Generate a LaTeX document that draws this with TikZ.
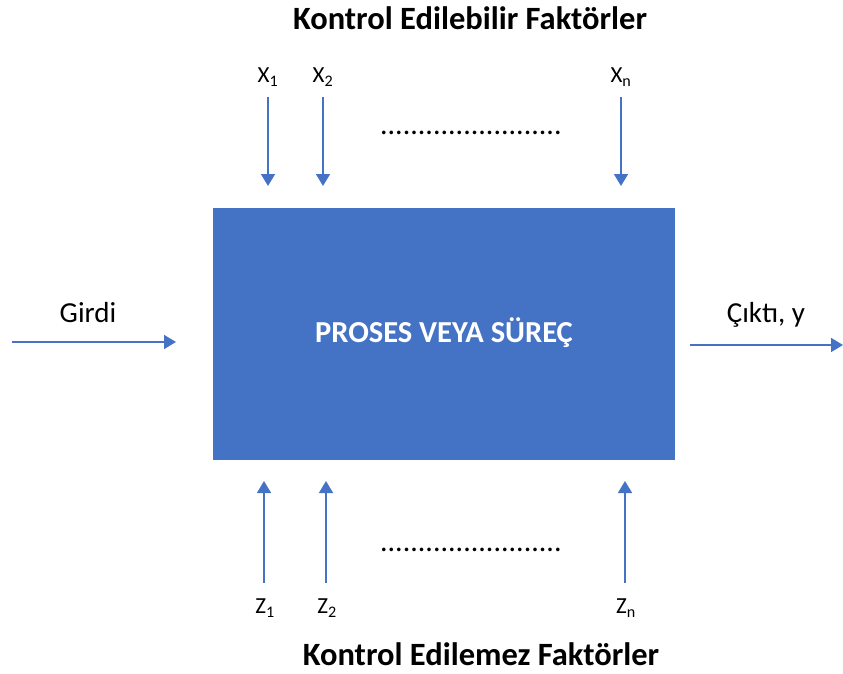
\documentclass[tikz,border=0pt]{standalone}
\usepackage{fontspec}
\setmainfont{Carlito}
\usetikzlibrary{arrows.meta}
\definecolor{boxblue}{HTML}{4472C4}
\begin{document}
\begin{tikzpicture}[x=1pt,y=-1pt,
  arr/.style={draw=boxblue,line width=1.6pt,-{Triangle[width=14pt,length=12pt]}},
  lbl/.style={font=\fontsize{23}{26}\selectfont,inner sep=0pt},
  big/.style={font=\fontsize{29}{32}\selectfont,inner sep=0pt},
  ttl/.style={font=\fontsize{32.5}{36}\selectfont\bfseries,inner sep=0pt,anchor=base},
  dots/.style={font=\fontsize{30}{32}\selectfont,inner sep=0pt,anchor=base}]
\useasboundingbox (0,0) rectangle (843,674);
\node[fill=boxblue,minimum width=462pt,minimum height=252pt,inner sep=0pt,anchor=north west] (box) at (213,208) {};
\node[text=white,font=\fontsize{30.5}{34}\selectfont\bfseries,anchor=base,inner sep=0pt] (ptxt) at (444,342) {PROSES VEYA SÜREÇ};
\node[ttl] (t1) at (470,30) {Kontrol Edilebilir Faktörler};
\node[ttl] (t2) at (481,665) {Kontrol Edilemez Faktörler};
% X inputs
\node[lbl] (x1) at (268,77) {X\textsubscript{1}};
\node[lbl] (x2) at (323,77) {X\textsubscript{2}};
\node[lbl] (xn) at (621,77) {X\textsubscript{n}};
\coordinate (x1e) at (268,186);
\coordinate (x2e) at (323,186);
\coordinate (xne) at (621,186);
\draw[arr] (268,97) -- (x1e);
\draw[arr] (323,97) -- (x2e);
\draw[arr] (621,97) -- (xne);
\node[dots] (d1) at (471,135) {........................};
% Z inputs
\node[lbl] (z1) at (265,608) {Z\textsubscript{1}};
\node[lbl] (z2) at (327,608) {Z\textsubscript{2}};
\node[lbl] (zn) at (626,608) {Z\textsubscript{n}};
\coordinate (z1e) at (264,481);
\coordinate (z2e) at (326,481);
\coordinate (zne) at (625,481);
\draw[arr] (264,583) -- (z1e);
\draw[arr] (326,583) -- (z2e);
\draw[arr] (625,583) -- (zne);
\node[dots] (d2) at (471,551) {........................};
% Input / output
\node[big] (gl) at (88,313) {Girdi};
\coordinate (gs) at (12,342);
\coordinate (ge) at (176,342);
\draw[arr] (gs) -- (ge);
\node[big] (cl) at (766,315) {Çıktı, y};
\coordinate (cs) at (690,345);
\coordinate (ce) at (843,345);
\draw[arr] (cs) -- (ce);
\end{tikzpicture}
\end{document}
